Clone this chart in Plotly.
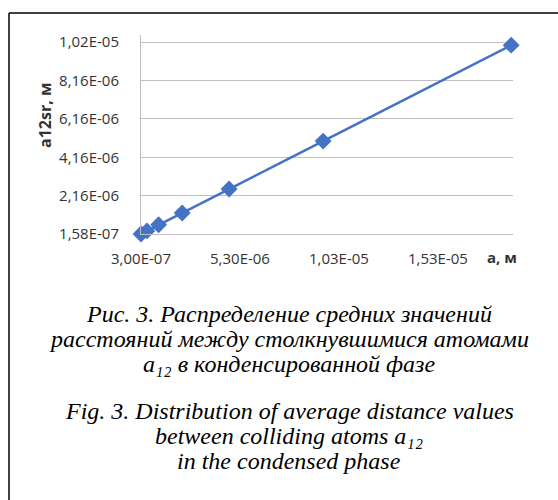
import plotly.graph_objects as go

# Data
a_vals = [3.0e-7, 6.0e-7, 1.19e-6, 2.38e-6, 4.75e-6, 9.5e-6, 1.9e-5]
a12sr_vals = [1.6e-7, 3.2e-7, 6.4e-7, 1.25e-6, 2.5e-6, 5.0e-6, 1.0e-5]

x_tickvals = [3.0e-7, 5.3e-6, 1.03e-5, 1.53e-5]
x_ticktext = ["3,00E-07", "5,30E-06", "1,03E-05", "1,53E-05"]
y_tickvals = [1.58e-7, 2.158e-6, 4.158e-6, 6.158e-6, 8.158e-6, 1.0158e-5]
y_ticktext = ["1,58E-07", "2,16E-06", "4,16E-06", "6,16E-06", "8,16E-06", "1,02E-05"]

caption_ru = ["Рис. 3. Распределение средних значений",
              "расстояний между столкнувшимися атомами",
              "a₁₂ в конденсированной фазе"]
caption_en = ["Fig. 3. Distribution of average distance values",
              "between colliding atoms a₁₂",
              "in the condensed phase"]

W, H = 558, 500
L, R, T, B = 141, 45, 35, 266
pw, ph = W - L - R, H - T - B


def px2paper(px, py):
    return (px - L) / pw, (H - B - py) / ph


fig = go.Figure()
fig.add_trace(go.Scatter(
    x=a_vals, y=a12sr_vals, mode="lines+markers",
    line=dict(color="#4472C4", width=2.5),
    marker=dict(symbol="diamond", size=13, color="#4472C4"),
    showlegend=False, cliponaxis=False,
))

gray = "#BFBFBF"
tickfont = dict(family="Open Sans", size=15, color="#333333")
fig.update_xaxes(
    range=[3.0e-7, 1.909e-5], tickvals=x_tickvals, ticktext=x_ticktext,
    showgrid=False, zeroline=False, showline=True, linecolor=gray, linewidth=1,
    ticks="outside", ticklen=11, tickcolor="rgba(0,0,0,0)", tickfont=tickfont,
)
fig.update_yaxes(
    range=[1.58e-7, 1.053e-5], tickvals=y_tickvals, ticktext=y_ticktext,
    showgrid=True, gridcolor=gray, gridwidth=1, zeroline=False,
    showline=True, linecolor=gray, linewidth=1,
    ticks="outside", ticklen=18, tickcolor="rgba(0,0,0,0)", tickfont=tickfont,
)

annotations = []
# axis titles
x0, y0 = px2paper(45, 116)
annotations.append(dict(text="<b>a12sr, м</b>", x=x0, y=y0, xref="paper", yref="paper",
                        textangle=-90, showarrow=False, xanchor="center", yanchor="middle",
                        font=dict(family="Open Sans", size=16, color="#333333")))
x0, y0 = px2paper(502, 257)
annotations.append(dict(text="<b>а, м</b>", x=x0, y=y0, xref="paper", yref="paper",
                        showarrow=False, xanchor="center", yanchor="middle",
                        font=dict(family="Open Sans", size=15, color="#333333")))

cap_font = dict(family="Liberation Serif", size=24, color="#000000")
for txt, py in zip(caption_ru + caption_en, [314, 339, 364, 411, 436, 461]):
    x0, y0 = px2paper(289, py)
    annotations.append(dict(text="<i>" + txt + "</i>", x=x0, y=y0, xref="paper", yref="paper",
                            showarrow=False, xanchor="center", yanchor="middle", font=cap_font))

# outer frame (left and top edges)
fx0, fy0 = px2paper(9, 13)
fx1, _ = px2paper(W + 5, 13)
_, fy1 = px2paper(9, H + 5)
shapes = [
    dict(type="line", xref="paper", yref="paper", x0=fx0, y0=fy0, x1=fx1, y1=fy0,
         line=dict(color="#000000", width=1.5)),
    dict(type="line", xref="paper", yref="paper", x0=fx0, y0=fy0, x1=fx0, y1=fy1,
         line=dict(color="#000000", width=1.5)),
]

fig.update_layout(
    width=W, height=H, margin=dict(l=L, r=R, t=T, b=B),
    paper_bgcolor="white", plot_bgcolor="white",
    annotations=annotations, shapes=shapes,
)

fig.write_html("out.html")
